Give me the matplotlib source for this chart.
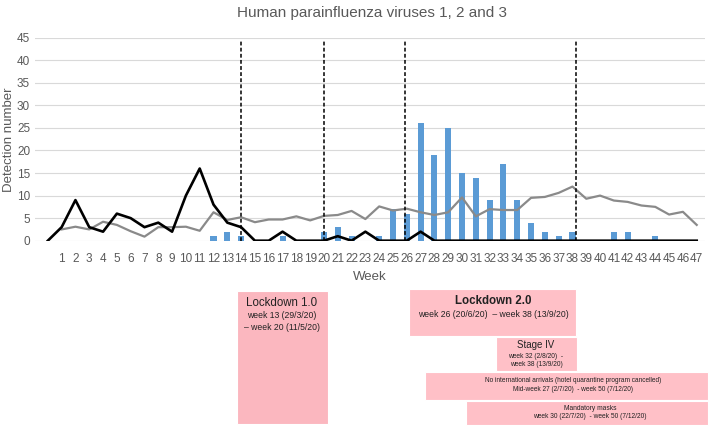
import numpy as np
import matplotlib
matplotlib.use("Agg")
import matplotlib.pyplot as plt
from matplotlib.patches import Rectangle

# weeks 0..47 (0 is an unlabelled start point)
weeks = list(range(0, 48))
week_labels = [""] + [str(w) for w in range(1, 48)]

# 2020 detections (bars)
bar_weeks = [12, 13, 14, 17, 20, 21, 22, 24, 25, 26, 27, 28, 29, 30, 31, 32, 33, 34,
             35, 36, 37, 38, 41, 42, 44]
bar_values = [1, 2, 1, 1, 2, 3, 1, 1, 7, 6, 26, 19, 25, 15, 14, 9, 17, 9,
              4, 2, 1, 2, 2, 2, 1]

# black line (weeks 0..47)
black_values = [0, 3, 9, 3, 2, 6, 5, 3, 4, 2, 10, 16, 8, 4, 3, 0, 0, 2, 0, 0,
                0, 1, 0, 2, 0, 0, 0, 2, 0, 0, 0, 0, 0, 0, 0, 0, 0, 0, 0, 0,
                0, 0, 0, 0, 0, 0, 0, 0]

# grey line (weeks 1..47)
grey_weeks = list(range(1, 48))
grey_values = [2.5, 3.1, 2.5, 4.2, 3.5, 2.1, 0.9, 3.0, 3.0, 3.1, 2.2, 6.3, 4.6, 5.2,
               4.1, 4.7, 4.7, 5.4, 4.5, 5.5, 5.7, 6.6, 4.8, 7.6, 6.7, 7.1, 6.3, 5.7,
               6.3, 9.6, 5.4, 7.0, 6.8, 6.8, 9.5, 9.7, 10.6, 12.0, 9.3, 10.0, 8.9,
               8.6, 7.8, 7.5, 5.8, 6.4, 3.5]

# dashed markers for restriction start/end
marker_weeks = [14, 20, 25.85, 38.25]

plt.rcParams['font.family'] = ['Liberation Sans', 'DejaVu Sans']
text_grey = '#595959'

fig = plt.figure(figsize=(7.09, 4.26), dpi=100)
ax = fig.add_axes([35 / 709, 185.3 / 426, 670 / 709, 203 / 426])

ax.bar(bar_weeks, bar_values, width=0.44, color='#5b9bd5', zorder=2)
ax.plot(grey_weeks, grey_values, color='#8a8a8a', lw=1.6, zorder=3)
ax.plot(weeks, black_values, color='black', lw=1.9, zorder=4)
for w in marker_weeks:
    ax.plot([w, w], [0, 44.2], color='black', lw=1.1, ls=(0, (2.5, 1.5)), zorder=5)

ax.set_xlim(-0.93, 47.6)
ax.set_ylim(0, 45)
ax.set_yticks(range(0, 46, 5))
ax.set_xticks(weeks)
ax.set_xticklabels(week_labels)
ax.tick_params(axis='both', length=0, labelsize=8.5, labelcolor=text_grey)
ax.tick_params(axis='x', pad=9)
ax.grid(axis='y', color='#d9d9d9', lw=0.8, zorder=0)
ax.set_axisbelow(True)
for s in ax.spines.values():
    s.set_visible(False)

ax.set_xlabel('Week', fontsize=9.5, color=text_grey, labelpad=4)
fig.text(372 / 709, 1 - 13 / 426, 'Human parainfluenza viruses 1, 2 and 3', fontsize=11,
         color=text_grey, ha='center', va='center')
fig.text(9 / 709, 1 - 140 / 426, 'Detection number', fontsize=9.5, color=text_grey,
         rotation=90, ha='center', va='center')


# boxes below the chart, in pixel coordinates (top-left origin)
def box(x0, y0, x1, y1, color):
    fig.patches.append(Rectangle((x0 / 709, 1 - y1 / 426), (x1 - x0) / 709, (y1 - y0) / 426,
                                 transform=fig.transFigure, facecolor=color,
                                 edgecolor='white', lw=0.8))


def label(x, y, s, size, **kw):
    fig.text(x / 709, 1 - y / 426, s, fontsize=size, ha='center', va='center',
             color='#222222', **kw)


pink = '#ffc0c7'
box(237, 291, 328, 424, '#fbb7bf')
label(282, 303.5, 'Lockdown 1.0', 8.3)
label(282, 316, 'week 13 (29/3/20)', 6.2)
label(282, 327.5, '\u2013 week 20 (11/5/20)', 6.2)

box(409, 289, 576, 336, pink)
label(493, 301, 'Lockdown 2.0', 8.3, fontweight='bold')
label(493, 314.5, 'week 26 (20/6/20)  \u2013 week 38 (13/9/20)', 6.2)

box(496, 337, 577, 371, pink)
label(536, 345.5, 'Stage IV', 7)
label(536, 356, 'week 32 (2/8/20)  -', 4.8)
label(536, 364, 'week 38 (13/9/20)', 4.8)

box(425, 372, 708, 400, pink)
label(573, 381, 'No international arrivals (hotel quarantine program cancelled)', 4.7)
label(573, 389.5, 'Mid-week 27 (2/7/20)  - week 50 (7/12/20)', 4.7)

box(466, 401, 708, 425, pink)
label(590, 408.5, 'Mandatory masks', 4.8)
label(590, 417, 'week 30 (22/7/20)  - week 50 (7/12/20)', 4.8)

fig.savefig('out.png', dpi=100)
